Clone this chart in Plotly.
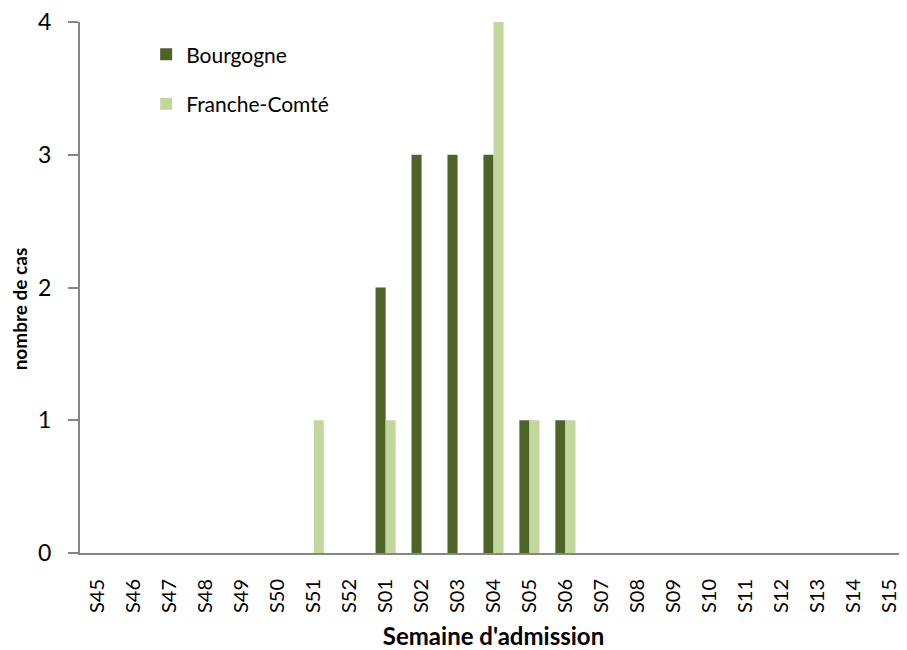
import plotly.graph_objects as go

weeks = ["S45", "S46", "S47", "S48", "S49", "S50", "S51", "S52",
         "S01", "S02", "S03", "S04", "S05", "S06", "S07", "S08",
         "S09", "S10", "S11", "S12", "S13", "S14", "S15"]
bourgogne = [0, 0, 0, 0, 0, 0, 0, 0, 2, 3, 3, 3, 1, 1, 0, 0, 0, 0, 0, 0, 0, 0, 0]
franche_comte = [0, 0, 0, 0, 0, 0, 1, 0, 1, 0, 0, 4, 1, 1, 0, 0, 0, 0, 0, 0, 0, 0, 0]

font_family = "Lato, Open Sans, sans-serif"

fig = go.Figure()
fig.add_trace(go.Bar(x=weeks, y=bourgogne, name="Bourgogne",
                     marker=dict(color="#4F6228", line_width=0), legendgroup="b"))
fig.add_trace(go.Bar(x=weeks, y=franche_comte, name="Franche-Comté",
                     marker=dict(color="#C3D69B", line_width=0), legendgroup="f"))

# the page body adds an 8px offset, so the figure is a bit smaller than the window
fig.update_layout(
    width=899, height=642,
    barmode="group", bargap=0.44, bargroupgap=0,
    plot_bgcolor="white", paper_bgcolor="white",
    margin=dict(l=72, r=0, t=14, b=97),
    font=dict(family=font_family, color="black"),
    legend=dict(x=0.08, y=0.977, xanchor="left", yanchor="top",
                font=dict(size=21), tracegroupgap=19, bgcolor="rgba(0,0,0,0)",
                itemwidth=30),
    showlegend=True,
)
fig.update_yaxes(
    range=[0, 4], dtick=1, showgrid=False, zeroline=False, automargin=False,
    showline=True, linecolor="#868686", linewidth=2,
    ticks="outside", ticklen=10, tickcolor="#868686", tickwidth=2,
    tickfont=dict(size=23), ticklabelstandoff=12, ticklabeloverflow="allow",
)
fig.update_xaxes(
    showgrid=False, showline=True, linecolor="#868686", linewidth=2, automargin=False,
    ticks="", tickangle=-90, tickfont=dict(size=20), ticklabelstandoff=16,
    title=dict(text="<b>Semaine d'admission</b>", font=dict(size=24), standoff=17),
)

# y title placed as an annotation, slightly below the plot centre as in the original
fig.add_annotation(
    text="<b>nombre de cas</b>", textangle=-90, font=dict(size=19),
    xref="paper", yref="paper", x=-0.073, y=0.46,
    xanchor="center", yanchor="middle", showarrow=False,
)

fig.write_html("out.html")
